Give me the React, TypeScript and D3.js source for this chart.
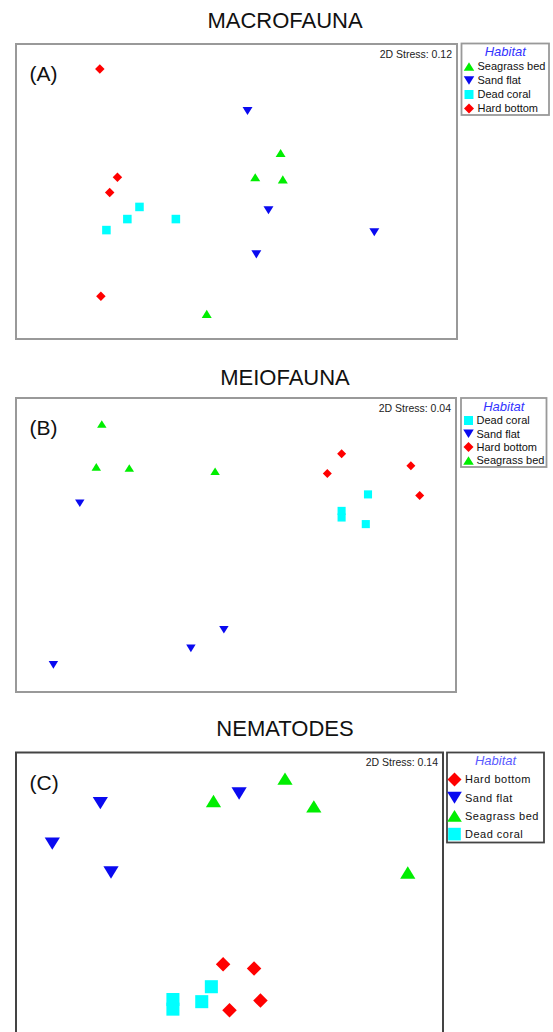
import React from 'react';
import * as d3 from 'd3';

// habitat styling
const habitatColor: Record<string, string> = {
  'Seagrass bed': '#00ee00',
  'Sand flat': '#0a0af0',
  'Dead coral': '#00ffff',
  'Hard bottom': '#ff0000',
};
const habitatShape: Record<string, string> = {
  'Seagrass bed': 'up',
  'Sand flat': 'down',
  'Dead coral': 'square',
  'Hard bottom': 'diamond',
};

// nMDS ordination scores (axis 1, axis 2)
const macroPoints = [
  { h: 'Hard bottom', x: -1.24, y: 1.11 },
  { h: 'Hard bottom', x: -1.08, y: 0.13 },
  { h: 'Hard bottom', x: -1.15, y: -0.01 },
  { h: 'Hard bottom', x: -1.23, y: -0.95 },
  { h: 'Dead coral', x: -0.88, y: -0.14 },
  { h: 'Dead coral', x: -0.99, y: -0.25 },
  { h: 'Dead coral', x: -0.55, y: -0.25 },
  { h: 'Dead coral', x: -1.18, y: -0.35 },
  { h: 'Sand flat', x: 0.10, y: 0.73 },
  { h: 'Sand flat', x: 0.29, y: -0.17 },
  { h: 'Sand flat', x: 0.18, y: -0.57 },
  { h: 'Sand flat', x: 1.25, y: -0.37 },
  { h: 'Seagrass bed', x: 0.40, y: 0.35 },
  { h: 'Seagrass bed', x: 0.17, y: 0.13 },
  { h: 'Seagrass bed', x: 0.42, y: 0.11 },
  { h: 'Seagrass bed', x: -0.27, y: -1.11 },
];

const meioPoints = [
  { h: 'Seagrass bed', x: -1.22, y: 1.10 },
  { h: 'Seagrass bed', x: -1.27, y: 0.71 },
  { h: 'Seagrass bed', x: -0.97, y: 0.70 },
  { h: 'Seagrass bed', x: -0.19, y: 0.67 },
  { h: 'Sand flat', x: -1.42, y: 0.38 },
  { h: 'Sand flat', x: -0.11, y: -0.77 },
  { h: 'Sand flat', x: -0.41, y: -0.94 },
  { h: 'Sand flat', x: -1.66, y: -1.09 },
  { h: 'Hard bottom', x: 0.96, y: 0.83 },
  { h: 'Hard bottom', x: 0.83, y: 0.65 },
  { h: 'Hard bottom', x: 1.59, y: 0.72 },
  { h: 'Hard bottom', x: 1.67, y: 0.45 },
  { h: 'Dead coral', x: 1.20, y: 0.46 },
  { h: 'Dead coral', x: 0.96, y: 0.31 },
  { h: 'Dead coral', x: 0.96, y: 0.25 },
  { h: 'Dead coral', x: 1.18, y: 0.19 },
];

const nemaPoints = [
  { h: 'Sand flat', x: -1.21, y: 0.91 },
  { h: 'Sand flat', x: -1.66, y: 0.53 },
  { h: 'Sand flat', x: -1.11, y: 0.26 },
  { h: 'Sand flat', x: 0.09, y: 1.00 },
  { h: 'Seagrass bed', x: -0.15, y: 0.93 },
  { h: 'Seagrass bed', x: 0.52, y: 1.14 },
  { h: 'Seagrass bed', x: 0.79, y: 0.88 },
  { h: 'Seagrass bed', x: 1.67, y: 0.26 },
  { h: 'Hard bottom', x: -0.06, y: -0.60 },
  { h: 'Hard bottom', x: 0.23, y: -0.64 },
  { h: 'Hard bottom', x: 0.29, y: -0.94 },
  { h: 'Hard bottom', x: 0.00, y: -1.03 },
  { h: 'Dead coral', x: -0.17, y: -0.81 },
  { h: 'Dead coral', x: -0.26, y: -0.95 },
  { h: 'Dead coral', x: -0.53, y: -0.93 },
  { h: 'Dead coral', x: -0.53, y: -1.02 },
];

const macroLegend = ['Seagrass bed', 'Sand flat', 'Dead coral', 'Hard bottom'];
const meioLegend = ['Dead coral', 'Sand flat', 'Hard bottom', 'Seagrass bed'];
const nemaLegend = ['Hard bottom', 'Sand flat', 'Seagrass bed', 'Dead coral'];

const FONT = "'Liberation Sans', Arial, sans-serif";

function symbolPath(shape: string, s: number) {
  const p = d3.path();
  const h = s / 2;
  if (shape === 'square') {
    p.rect(-h * 0.9, -h * 0.9, s * 0.9, s * 0.9);
  } else if (shape === 'diamond') {
    p.moveTo(0, -h); p.lineTo(h, 0); p.lineTo(0, h); p.lineTo(-h, 0); p.closePath();
  } else if (shape === 'up') {
    const th = s * 0.85;
    p.moveTo(0, -th / 2); p.lineTo(h * 1.05, th / 2); p.lineTo(-h * 1.05, th / 2); p.closePath();
  } else {
    const th = s * 0.85;
    p.moveTo(-h * 1.05, -th / 2); p.lineTo(h * 1.05, -th / 2); p.lineTo(0, th / 2); p.closePath();
  }
  return p.toString();
}

function Panel(props: any) {
  const { title, titleY, label, stress, points, legend, frame, box, markSize, legendMark, frameColor, habitatColorTxt, step, spacing } = props;
  const w = frame.x1 - frame.x0;
  const hgt = frame.y1 - frame.y0;
  const half = 2 * hgt / w;
  const x = d3.scaleLinear().domain([-2, 2]).range([frame.x0, frame.x1]);
  const y = d3.scaleLinear().domain([-half, half]).range([frame.y1, frame.y0]);
  return (
    <g fontFamily={FONT}>
      <text x={285} y={titleY} fontSize={22} textAnchor="middle" fill="#111">{title}</text>
      <rect x={frame.x0} y={frame.y0} width={w} height={hgt} fill="none" stroke={frameColor} strokeWidth={2} />
      <text x={frame.x0 + 13.5} y={frame.y0 + 37} fontSize={21} fill="#111">{label}</text>
      <text x={frame.x1 - 5} y={frame.y0 + 13.7} fontSize={10.5} textAnchor="end" fill="#222">{stress}</text>
      {points.map((d: any, i: number) => (
        <path key={i} transform={`translate(${x(d.x)},${y(d.y)})`}
          d={symbolPath(habitatShape[d.h], markSize)} fill={habitatColor[d.h]} />
      ))}
      <rect x={box.x0} y={box.y0} width={box.x1 - box.x0} height={box.y1 - box.y0} fill="none" stroke={frameColor} strokeWidth={1.8} />
      <text x={(box.x0 + box.x1) / 2} y={box.y0 + 8} dy="0.35em" fontSize={13} fontStyle="italic" textAnchor="middle" fill={habitatColorTxt}>Habitat</text>
      {legend.map((name: string, i: number) => (
        <g key={name} transform={`translate(${box.x0 + 7.5},${box.y0 + step.first + i * step.gap})`}>
          <path d={symbolPath(habitatShape[name], legendMark)} fill={habitatColor[name]} />
          <text x={step.textDx} dy="0.35em" fontSize={11} letterSpacing={spacing} fill="#111">{name}</text>
        </g>
      ))}
    </g>
  );
}

export default function App() {
  return (
    <div style={{ position: 'absolute', left: 0, top: 0 }}>
      <svg width={553} height={1032} style={{ display: 'block', background: '#fff' }}>
        <Panel title="MACROFAUNA" titleY={27.5} label="(A)" stress="2D Stress: 0.12"
          points={macroPoints} legend={macroLegend}
          frame={{ x0: 16, x1: 457, y0: 44, y1: 339 }}
          box={{ x0: 461.5, x1: 549, y0: 43.5, y1: 115 }}
          step={{ first: 23, gap: 14, textDx: 8.5 }}
          markSize={9.5} legendMark={10} frameColor="#999" habitatColorTxt="#3333ff" spacing={0} />
        <Panel title="MEIOFAUNA" titleY={384.5} label="(B)" stress="2D Stress: 0.04"
          points={meioPoints} legend={meioLegend}
          frame={{ x0: 16, x1: 456, y0: 398, y1: 692 }}
          box={{ x0: 461, x1: 546.5, y0: 398, y1: 467 }}
          step={{ first: 22.5, gap: 13.3, textDx: 8 }}
          markSize={9} legendMark={10} frameColor="#999" habitatColorTxt="#3333ff" spacing={0} />
        <Panel title="NEMATODES" titleY={736} label="(C)" stress="2D Stress: 0.14"
          points={nemaPoints} legend={nemaLegend}
          frame={{ x0: 16, x1: 443, y0: 752.5, y1: 1048 }}
          box={{ x0: 447, x1: 544, y0: 752.5, y1: 842.5 }}
          step={{ first: 27, gap: 18.2, textDx: 10.5 }}
          markSize={14.5} legendMark={14} frameColor="#444" habitatColorTxt="#5a5aff" spacing={0.5} />
      </svg>
    </div>
  );
}
